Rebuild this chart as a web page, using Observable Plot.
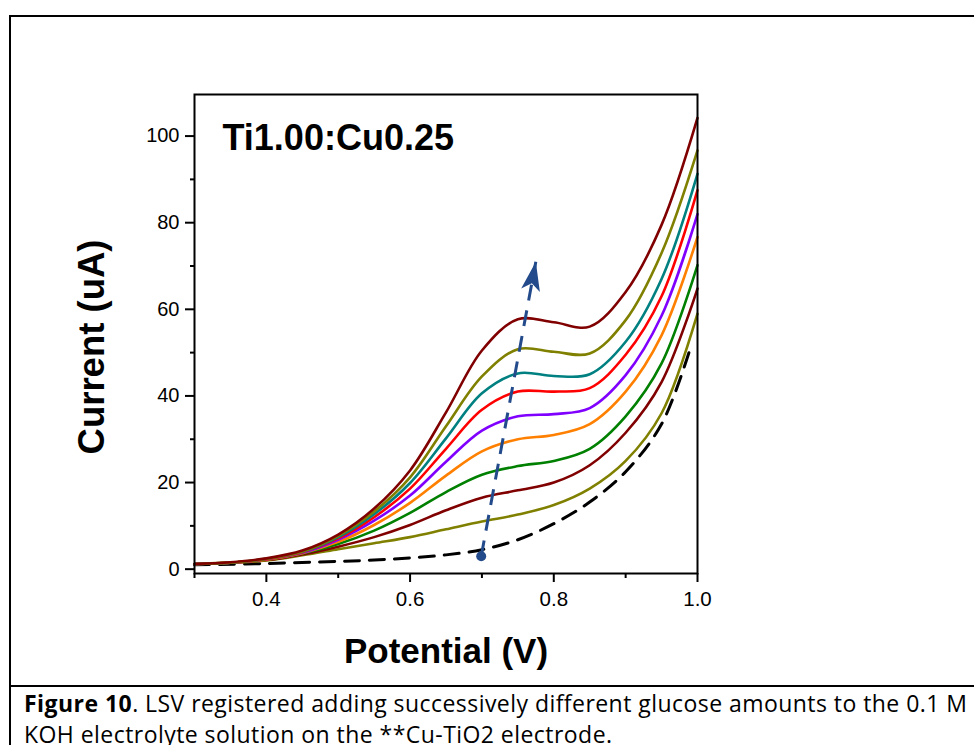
<!DOCTYPE html>
<html>
<head>
<meta charset="utf-8">
<script src="https://cdn.jsdelivr.net/npm/d3@7"></script>
<script src="https://cdn.jsdelivr.net/npm/@observablehq/plot@0.6"></script>
<style>
html, body { margin: 0; padding: 0; background: #fff; width: 974px; height: 745px; overflow: hidden; }
#wrap { position: relative; width: 974px; height: 745px; overflow: hidden; }
#chart { position: absolute; left: 0; top: 0; }
#border { position: absolute; left: 9px; top: 15px; width: 990px; height: 800px; border-left: 2px solid #000; border-top: 2px solid #000; }
#divider { position: absolute; left: 9px; top: 685px; width: 990px; height: 0; border-top: 2px solid #000; }
#caption { position: absolute; left: 24px; top: 688px; font-family: "Open Sans", "Noto Sans", sans-serif; font-size: 23px; letter-spacing: 0.45px; line-height: 31px; white-space: nowrap; color: #000; }
#caption b { font-weight: 700; }
</style>
</head>
<body>
<div id="wrap">
  <div id="border"></div>
  <div id="chart"></div>
  <div id="divider"></div>
  <div id="caption">
    <div id="line1"><b>Figure 10</b>. LSV registered adding successively different glucose amounts to the 0.1 M</div>
    <div id="line2">KOH electrolyte solution on the **Cu-TiO2 electrode.</div>
  </div>
</div>
<script>
// ---- data ----
const potential = [0.30, 0.35, 0.40, 0.45, 0.50, 0.55, 0.60, 0.65, 0.70, 0.75, 0.80, 0.85, 0.90, 0.95, 1.00];

const curve1 = [1.2, 1.5, 2.0, 3.2, 4.6, 6.0, 7.4, 9.2, 11.0, 12.6, 14.8, 18.6, 25.0, 36.0, 59.0];
const curve2 = [1.2, 1.5, 2.1, 3.4, 5.2, 7.4, 10.2, 13.6, 16.5, 18.2, 20.0, 24.0, 31.5, 43.2, 64.8];
const curve3 = [1.2, 1.5, 2.2, 3.6, 5.8, 8.9, 13.0, 17.8, 21.8, 23.8, 25.0, 27.8, 35.3, 47.5, 70.2];
const curve4 = [1.2, 1.5, 2.2, 3.7, 6.3, 10.2, 15.3, 21.6, 27.2, 30.0, 31.0, 33.5, 41.0, 54.0, 76.7];
const curve5 = [1.2, 1.5, 2.3, 3.8, 6.8, 11.2, 17.0, 24.8, 32.0, 35.3, 35.8, 37.2, 44.8, 58.5, 82.0];
const curve6 = [1.2, 1.5, 2.3, 3.9, 7.1, 12.0, 18.6, 27.8, 36.8, 41.0, 41.0, 41.8, 49.5, 63.0, 87.5];
const curve7 = [1.2, 1.5, 2.4, 4.0, 7.4, 12.7, 19.9, 30.2, 40.6, 45.2, 44.6, 45.0, 52.5, 67.0, 91.3];
const curve8 = [1.2, 1.5, 2.4, 4.1, 7.7, 13.3, 21.2, 33.0, 44.5, 50.8, 50.2, 49.8, 57.5, 73.0, 96.7];
const curve9 = [1.2, 1.6, 2.5, 4.3, 8.0, 14.0, 22.8, 36.2, 50.5, 57.7, 57.0, 56.0, 64.0, 79.5, 104.2];

const blankPotential = [0.30, 0.40, 0.50, 0.55, 0.60, 0.65, 0.70, 0.75, 0.80, 0.85, 0.90, 0.95, 0.99];
const blankCurrent   = [1.0, 1.3, 1.8, 2.1, 2.6, 3.3, 4.5, 6.8, 10.5, 15.5, 22.5, 33.5, 51.0];

const seriesNames = ["c1", "c2", "c3", "c4", "c5", "c6", "c7", "c8", "c9"];
const seriesValues = [curve1, curve2, curve3, curve4, curve5, curve6, curve7, curve8, curve9];
const seriesColors = ["#808000", "#800000", "#008000", "#FF8000", "#8000FF", "#FF0000", "#008080", "#808000", "#800000"];

const arrowStart = {V: 0.699, I: 3.0};
const arrowTip = {V: 0.775, I: 71.0};

const yTicks = [0, 20, 40, 60, 80, 100];
const yMinor = [10, 30, 50, 70, 90];
const xTicks = [0.4, 0.6, 0.8, 1.0];
const xMinor = [0.3, 0.5, 0.7, 0.9];

const titleText = "Ti1.00:Cu0.25";
const xLabel = "Potential (V)";
const yLabel = "Current (uA)";

// ---- build ----
const blankRows = blankPotential.map((v, i) => ({V: v, I: blankCurrent[i]}));
const arrowBlue = "#234a8a";

const stealth = {
  draw(ctx) {
    ctx.moveTo(0, 0);
    ctx.lineTo(9.5, 29);
    ctx.lineTo(0, 22);
    ctx.lineTo(-9.5, 29);
    ctx.closePath();
  }
};

const lineMarks = seriesNames.map((name, k) =>
  Plot.line(potential.map((v, i) => ({V: v, I: seriesValues[k][i], name})), {
    x: "V", y: "I", stroke: seriesColors[k], strokeWidth: 2.6, curve: "catmull-rom"
  })
);

const chart = Plot.plot({
  width: 974,
  height: 686,
  marginLeft: 194,
  marginRight: 277,
  marginTop: 94,
  marginBottom: 113,
  x: {domain: [0.3, 1.0]},
  y: {domain: [-1, 109.6]},
  style: {fontFamily: "'Liberation Sans', Arial, sans-serif", fontSize: "20px", color: "#000", background: "transparent", overflow: "visible"},
  marks: [
    Plot.line(blankRows, {x: "V", y: "I", stroke: "#000", strokeWidth: 3, strokeDasharray: "15,10", curve: "catmull-rom"}),
    ...lineMarks,
    Plot.link([{a: arrowStart, b: arrowTip}], {
      x1: d => d.a.V, y1: d => d.a.I, x2: d => d.b.V, y2: d => d.b.I,
      stroke: arrowBlue, strokeWidth: 3, strokeDasharray: "16,10"
    }),
    Plot.dot([arrowStart], {x: "V", y: "I", r: 5, fill: arrowBlue}),
    Plot.dot([arrowTip], {x: "V", y: "I", r: 10, symbol: stealth, rotate: 10.5, fill: arrowBlue, stroke: "none"}),
    Plot.axisY(yTicks, {tickSize: 9, tickPadding: 6, fontSize: 20, strokeWidth: 2, label: null}),
    Plot.axisY(yMinor, {tickSize: 4, tickFormat: () => "", strokeWidth: 2, label: null}),
    Plot.axisX(xTicks, {tickSize: 9, tickPadding: 9, fontSize: 20.5, strokeWidth: 2, label: null, tickFormat: d3.format(".1f")}),
    Plot.axisX(xMinor, {tickSize: 5, tickFormat: () => "", strokeWidth: 2, label: null}),
    Plot.frame({stroke: "#000", strokeWidth: 2}),
    Plot.text([titleText], {frameAnchor: "top-left", dx: 28, dy: 55, textAnchor: "start", lineAnchor: "bottom", fontSize: 36, fontWeight: "bold", fill: "#000"}),
    Plot.text([xLabel], {frameAnchor: "bottom", dy: 89, textAnchor: "middle", lineAnchor: "bottom", fontSize: 35, fontWeight: "bold", fill: "#000"}),
    Plot.text([yLabel], {frameAnchor: "left", dx: -102, dy: 13, rotate: -90, textAnchor: "middle", lineAnchor: "middle", fontSize: 36.5, fontWeight: "bold", fill: "#000"})
  ]
});
document.getElementById("chart").appendChild(chart);
</script>
</body>
</html>
